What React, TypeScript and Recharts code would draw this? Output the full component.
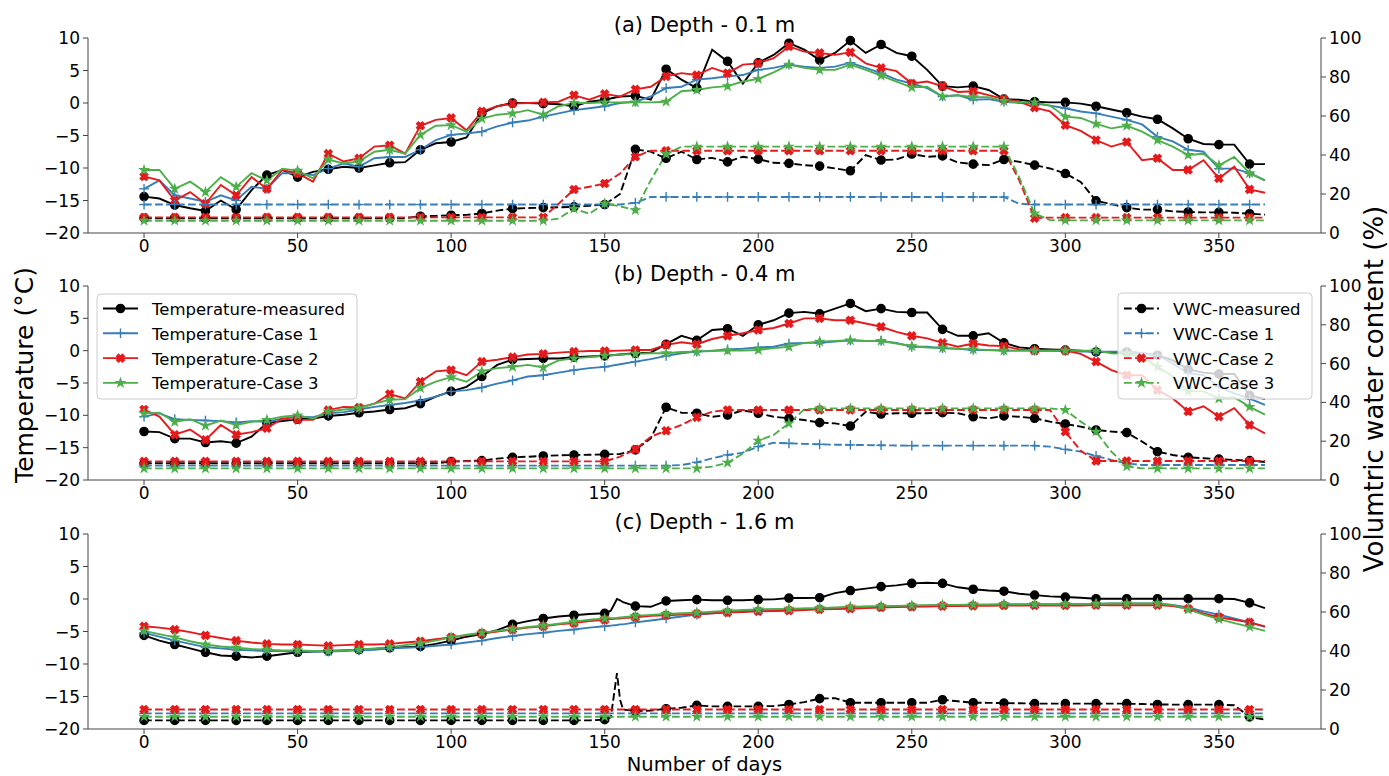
import React from "react";
import { LineChart, Line, XAxis, YAxis } from "recharts";

const FONT = "'DejaVu Sans', 'Liberation Sans', sans-serif";
const BLACK = "#000000";
const BLUE = "#377eb8";
const RED = "#e41a1c";
const GREEN = "#4daf4a";
const SPINE = "#444";

const X_TICKS = [0, 50, 100, 150, 200, 250, 300, 350];
const T_TICKS = [-20, -15, -10, -5, 0, 5, 10];
const V_TICKS = [0, 20, 40, 60, 80, 100];

const DAYS = [
  0, 5, 10, 15, 20, 25, 30, 35, 40, 45,
  50, 55, 60, 65, 70, 75, 80, 85, 90, 95,
  100, 105, 110, 115, 120, 125, 130, 135, 140, 145,
  150, 155, 160, 165, 170, 175, 180, 185, 190, 195,
  200, 205, 210, 215, 220, 225, 230, 235, 240, 245,
  250, 255, 260, 265, 270, 275, 280, 285, 290, 295,
  300, 305, 310, 315, 320, 325, 330, 335, 340, 345,
  350, 355, 360, 365,
];

// panel (c) has a few extra days around the spike at day ~154
const DAYS_C = [
  0, 5, 10, 15, 20, 25, 30, 35, 40, 45,
  50, 55, 60, 65, 70, 75, 80, 85, 90, 95,
  100, 105, 110, 115, 120, 125, 130, 135, 140, 145,
  150, 152, 154, 155, 156, 160, 165, 170, 175, 180,
  185, 190, 195, 200, 205, 210, 215, 220, 225, 230,
  235, 240, 245, 250, 255, 260, 265, 270, 275, 280,
  285, 290, 295, 300, 305, 310, 315, 320, 325, 330,
  335, 340, 345, 350, 355, 360, 365,
];

// ---- (a) depth 0.1 m ----
const TA_M = [
  -14.4, -14.7, -15.7, -16.2, -16.6, -15.0, -16.4, -13.4, -11.1, -10.3,
  -11.4, -10.6, -10.2, -9.8, -10.0, -9.6, -9.2, -9.1, -7.2, -6.2,
  -6.0, -5.3, -1.6, -0.5, 0.0, 0.0, -0.1, -0.2, -0.5, 0.2,
  0.5, 1.0, 1.1, 0.5, 5.2, 3.6, 2.3, 8.2, 6.4, 3.0,
  6.2, 7.4, 9.2, 8.2, 6.6, 7.7, 9.6, 7.7, 9.0, 7.7,
  7.2, 5.1, 2.6, 2.4, 2.6, 2.0, 0.6, 0.5, 0.2, 0.1,
  0.1, -0.1, -0.5, -1.0, -1.5, -2.1, -2.5, -3.9, -5.5, -6.3,
  -6.4, -6.4, -9.4, -9.4,
];
const TA_1 = [
  -13.2, -11.9, -14.2, -14.7, -15.2, -14.2, -15.0, -12.9, -13.2, -10.8,
  -10.8, -11.1, -10.1, -9.3, -9.8, -8.5, -8.3, -8.3, -7.2, -5.7,
  -4.9, -4.7, -4.4, -3.6, -3.0, -2.7, -2.1, -1.6, -1.1, -0.8,
  -0.5, 0.0, 0.2, 1.0, 2.3, 2.5, 3.6, 3.8, 4.1, 4.3,
  5.1, 5.4, 5.9, 5.6, 5.4, 5.6, 6.2, 5.4, 4.6, 3.6,
  3.0, 2.3, 1.0, 1.2, 0.5, 0.6, 0.2, 0.0, -0.1, -0.4,
  -0.8, -1.3, -1.6, -2.1, -2.6, -3.3, -5.2, -5.9, -7.2, -7.5,
  -10.1, -10.1, -10.8, -11.9,
];
const TA_2 = [
  -11.3, -11.9, -15.0, -13.7, -15.5, -12.6, -14.2, -11.4, -13.2, -10.3,
  -10.8, -12.1, -7.8, -9.0, -8.5, -6.7, -6.5, -7.8, -3.5, -2.6,
  -2.3, -4.2, -1.3, -0.5, -0.1, 0.0, 0.1, 0.2, 1.2, 0.5,
  1.4, 1.0, 2.1, 2.5, 4.1, 4.6, 4.3, 5.4, 4.6, 5.9,
  6.1, 6.9, 8.7, 7.9, 7.7, 7.4, 7.8, 6.1, 5.4, 4.9,
  3.0, 3.3, 2.6, 1.7, 1.8, 1.2, 0.6, 0.2, -0.7, -1.3,
  -3.4, -4.3, -5.7, -6.7, -6.0, -8.8, -8.5, -10.3, -10.3, -8.8,
  -11.6, -9.8, -13.3, -13.8,
];
const TA_3 = [
  -10.3, -10.3, -13.2, -12.1, -13.7, -11.4, -12.9, -10.8, -11.9, -10.1,
  -10.4, -11.6, -8.7, -9.3, -9.0, -7.5, -7.2, -7.8, -4.9, -3.5,
  -3.4, -4.4, -2.4, -1.8, -1.6, -1.1, -1.8, -0.5, 0.0, 0.0,
  0.1, 0.1, 0.1, 0.1, 0.2, 1.8, 2.0, 2.4, 2.6, 3.3,
  3.7, 4.7, 5.9, 5.4, 5.1, 5.1, 5.9, 5.1, 4.2, 3.3,
  2.4, 2.5, 1.0, 1.2, 0.9, 0.9, 0.3, 0.1, 0.1, -0.4,
  -2.1, -2.3, -3.2, -3.9, -3.5, -4.4, -5.7, -6.7, -8.0, -7.8,
  -9.6, -8.3, -10.8, -11.9,
];
const VA_M = [
  7.6, 7.6, 7.6, 7.6, 7.6, 7.6, 7.6, 7.6, 7.6, 7.6,
  7.6, 7.6, 7.6, 7.6, 7.6, 7.6, 7.6, 7.6, 8.6, 8.8,
  9.1, 9.3, 10.0, 11.5, 12.5, 12.8, 13.0, 13.2, 13.4, 14.0,
  14.6, 20.0, 42.9, 41.7, 38.3, 41.7, 37.7, 38.5, 36.5, 39.1,
  37.9, 36.0, 35.7, 34.8, 34.3, 33.1, 31.9, 39.9, 37.4, 37.7,
  40.5, 39.1, 39.5, 36.2, 35.3, 34.8, 37.7, 36.5, 34.8, 33.1,
  30.5, 26.2, 16.5, 14.8, 13.0, 12.0, 12.0, 11.1, 10.8, 10.6,
  10.6, 10.4, 9.9, 9.4,
];
const VA_1 = [
  14.6, 14.6, 14.6, 14.6, 14.6, 14.6, 14.6, 14.6, 14.6, 14.6,
  14.6, 14.6, 14.6, 14.6, 14.6, 14.6, 14.6, 14.6, 14.6, 14.6,
  14.6, 14.6, 14.6, 14.6, 14.6, 14.6, 14.6, 14.6, 14.6, 14.6,
  14.6, 14.6, 15.5, 18.5, 18.5, 18.5, 18.5, 18.5, 18.5, 18.5,
  18.5, 18.5, 18.5, 18.5, 18.5, 18.5, 18.5, 18.5, 18.5, 18.5,
  18.5, 18.5, 18.5, 18.5, 18.5, 18.5, 18.5, 15.0, 14.6, 14.6,
  14.6, 14.6, 14.6, 14.6, 14.6, 14.6, 14.6, 14.6, 14.6, 14.6,
  14.6, 14.6, 14.6, 14.6,
];
const VA_2 = [
  8.0, 8.0, 8.0, 8.0, 8.0, 8.0, 8.0, 8.0, 8.0, 8.0,
  8.0, 8.0, 8.0, 8.0, 8.0, 8.0, 8.0, 8.0, 8.0, 8.0,
  8.0, 8.0, 8.0, 8.0, 8.0, 8.0, 8.0, 15.0, 22.3, 23.7,
  25.4, 30.5, 39.1, 42.2, 42.2, 42.2, 42.2, 42.2, 42.2, 42.2,
  42.2, 42.2, 42.2, 42.2, 42.2, 42.2, 42.2, 42.2, 42.2, 42.2,
  42.2, 42.2, 42.2, 42.2, 42.2, 42.2, 42.2, 27.0, 7.6, 7.9,
  7.9, 7.9, 7.9, 7.9, 7.9, 7.9, 7.9, 7.9, 7.9, 7.9,
  7.9, 7.9, 7.9, 7.9,
];
const VA_3 = [
  6.3, 6.3, 6.3, 6.3, 6.3, 6.3, 6.3, 6.3, 6.3, 6.3,
  6.3, 6.3, 6.3, 6.3, 6.3, 6.3, 6.3, 6.3, 6.3, 6.3,
  6.3, 6.3, 6.3, 6.3, 6.3, 6.3, 6.3, 7.4, 12.5, 9.9,
  15.1, 13.7, 11.7, 27.0, 40.5, 44.3, 44.3, 44.3, 44.3, 44.3,
  44.3, 44.3, 44.3, 44.3, 44.3, 44.3, 44.3, 44.3, 44.3, 44.3,
  44.3, 44.3, 44.3, 44.3, 44.3, 44.3, 44.3, 28.5, 10.0, 6.6,
  6.5, 6.5, 6.5, 6.5, 6.5, 6.5, 6.5, 6.5, 6.5, 6.5,
  6.5, 6.5, 6.5, 6.5,
];

// ---- (b) depth 0.4 m ----
const TB_M = [
  -12.5, -12.6, -13.6, -13.6, -14.2, -14.0, -14.3, -13.3, -11.2, -10.9,
  -10.6, -10.5, -10.1, -9.9, -9.6, -9.4, -9.1, -8.9, -8.2, -7.1,
  -6.3, -5.6, -4.0, -2.2, -1.4, -1.3, -1.2, -1.2, -1.0, -0.9,
  -0.8, -0.6, -0.4, -0.3, 1.0, 2.3, 1.6, 3.2, 3.4, 2.3,
  4.0, 4.7, 5.8, 6.0, 5.7, 6.5, 7.3, 6.1, 6.5, 6.0,
  5.9, 5.9, 3.3, 2.3, 2.3, 2.7, 1.2, 0.5, 0.3, 0.2,
  0.1, 0.0, -0.2, -0.2, -0.2, -0.4, -0.7, -1.5, -2.9, -3.4,
  -3.6, -3.6, -6.9, -7.5,
];
const TB_1 = [
  -10.2, -9.7, -10.6, -10.7, -10.8, -10.9, -11.1, -10.9, -11.0, -10.5,
  -10.2, -10.3, -9.7, -9.5, -9.1, -8.7, -8.4, -8.1, -7.7, -7.1,
  -6.3, -6.1, -5.7, -5.1, -4.6, -4.0, -3.8, -3.4, -3.0, -2.7,
  -2.5, -2.1, -1.7, -1.3, -0.8, -0.4, -0.15, 0.0, 0.2, 0.3,
  0.5, 0.6, 1.1, 1.2, 1.2, 1.4, 1.6, 1.5, 1.5, 1.2,
  0.6, 0.6, 0.4, 0.3, 0.1, 0.1, 0.0, 0.0, 0.0, 0.0,
  -0.05, -0.15, -0.15, -0.15, -0.15, -0.4, -0.7, -2.0, -3.5, -3.8,
  -5.6, -6.6, -7.4, -8.4,
];
const TB_2 = [
  -9.1, -10.2, -13.0, -12.2, -13.8, -11.5, -13.0, -12.6, -12.0, -10.5,
  -10.7, -10.7, -9.2, -8.7, -8.8, -8.2, -6.7, -7.4, -4.8, -3.2,
  -3.0, -3.8, -1.7, -1.4, -1.0, -0.6, -0.5, -0.3, -0.15, -0.05,
  -0.05, 0.0, 0.1, 0.1, 0.9, 1.3, 1.0, 1.8, 2.3, 2.7,
  3.2, 3.5, 4.2, 5.0, 5.0, 4.7, 4.7, 4.2, 3.7, 2.9,
  2.3, 1.9, 1.2, 0.6, 1.1, 0.8, 0.7, 0.2, 0.0, 0.0,
  0.0, -0.5, -1.7, -3.0, -3.8, -3.8, -6.1, -7.4, -9.4, -8.6,
  -10.2, -8.9, -11.5, -12.8,
];
const TB_3 = [
  -9.7, -9.6, -11.0, -10.6, -11.6, -10.8, -11.5, -11.0, -10.7, -10.2,
  -10.0, -10.5, -9.4, -9.1, -8.9, -8.2, -7.6, -7.5, -5.8, -4.8,
  -4.1, -4.8, -3.2, -2.7, -2.5, -2.2, -2.6, -1.5, -1.2, -1.0,
  -0.8, -0.6, -0.5, -0.4, -0.4, -0.2, -0.15, -0.05, 0.0, 0.0,
  0.1, 0.4, 0.6, 1.2, 1.4, 1.5, 1.6, 1.5, 1.5, 1.1,
  0.7, 0.5, 0.4, 0.3, 0.2, 0.1, 0.0, 0.0, 0.0, 0.0,
  0.0, 0.0, 0.0, -0.4, -0.5, -0.9, -2.5, -4.0, -6.3, -6.3,
  -7.4, -7.2, -8.7, -9.9,
];
const VB_M = [
  8.6, 8.6, 8.6, 8.6, 8.6, 8.6, 8.6, 8.6, 8.6, 8.6,
  8.6, 8.6, 8.6, 8.6, 8.6, 8.6, 8.6, 8.6, 8.6, 8.6,
  9.5, 9.8, 10.0, 11.0, 11.7, 12.0, 12.4, 12.7, 12.9, 13.0,
  13.2, 13.4, 15.5, 21.5, 37.5, 34.7, 34.4, 32.6, 33.5, 35.9,
  34.4, 32.6, 31.8, 30.9, 29.6, 29.2, 27.8, 35.2, 34.0, 34.4,
  34.4, 34.4, 34.7, 34.4, 32.6, 31.8, 33.0, 32.6, 31.8, 30.1,
  28.9, 27.5, 25.8, 25.0, 24.4, 19.8, 14.6, 12.9, 11.7, 11.2,
  10.8, 10.3, 10.0, 9.3,
];
const VB_1 = [
  7.4, 7.4, 7.4, 7.4, 7.4, 7.4, 7.4, 7.4, 7.4, 7.4,
  7.4, 7.4, 7.4, 7.4, 7.4, 7.4, 7.4, 7.4, 7.4, 7.4,
  7.4, 7.4, 7.4, 7.4, 7.4, 7.4, 7.4, 7.4, 7.4, 7.4,
  7.4, 7.4, 7.4, 7.4, 7.4, 7.7, 9.1, 11.2, 12.9, 14.1,
  17.2, 19.2, 18.9, 18.6, 18.4, 18.2, 18.1, 18.0, 17.9, 17.8,
  17.7, 17.7, 17.7, 17.7, 17.7, 17.7, 17.7, 17.7, 17.7, 17.2,
  15.8, 14.6, 12.4, 10.3, 8.6, 7.7, 7.7, 7.7, 7.7, 7.7,
  7.7, 7.7, 7.7, 7.7,
];
const VB_2 = [
  9.6, 9.6, 9.6, 9.6, 9.6, 9.6, 9.6, 9.6, 9.6, 9.6,
  9.6, 9.6, 9.6, 9.6, 9.6, 9.6, 9.6, 9.6, 9.6, 9.6,
  9.6, 9.6, 9.6, 9.6, 9.6, 9.6, 9.6, 9.6, 9.6, 9.6,
  9.6, 12.0, 15.8, 22.3, 25.4, 28.4, 32.3, 35.2, 36.1, 36.1,
  36.1, 36.1, 36.1, 36.1, 36.1, 36.1, 36.1, 36.1, 36.1, 36.1,
  36.1, 36.1, 36.1, 36.1, 36.1, 36.1, 36.1, 36.1, 36.1, 36.1,
  24.9, 15.1, 9.8, 9.8, 9.8, 9.8, 9.8, 9.8, 9.8, 9.8,
  9.8, 9.8, 9.8, 9.8,
];
const VB_3 = [
  6.0, 6.0, 6.0, 6.0, 6.0, 6.0, 6.0, 6.0, 6.0, 6.0,
  6.0, 6.0, 6.0, 6.0, 6.0, 6.0, 6.0, 6.0, 6.0, 6.0,
  6.0, 6.0, 6.0, 6.0, 6.0, 6.0, 6.0, 6.0, 6.0, 6.0,
  6.0, 6.0, 6.0, 6.0, 6.0, 6.0, 6.0, 6.9, 8.9, 13.6,
  20.3, 23.2, 29.2, 36.4, 36.9, 36.9, 36.9, 36.9, 36.9, 36.9,
  36.9, 36.9, 36.9, 36.9, 36.9, 36.9, 36.9, 36.9, 36.9, 36.9,
  36.1, 30.1, 24.9, 14.6, 7.0, 6.0, 6.0, 6.0, 6.0, 6.0,
  6.0, 6.0, 6.0, 6.0,
];

// ---- (c) depth 1.6 m (uses DAYS_C) ----
const TC_M = [
  -5.6, -6.4, -7.0, -7.6, -8.2, -8.7, -8.8, -9.0, -8.8, -8.5,
  -8.2, -8.1, -8.0, -7.9, -7.8, -7.7, -7.5, -7.4, -7.3, -6.9,
  -6.4, -5.8, -5.4, -4.8, -3.9, -3.4, -3.0, -2.7, -2.5, -2.3,
  -2.2, -1.8, 0.0, -0.2, -0.5, -1.1, -1.2, -0.3, -0.2, -0.1,
  -0.2, -0.2, -0.2, -0.1, -0.05, 0.15, 0.15, 0.2, 0.9, 1.3,
  1.6, 1.9, 2.1, 2.4, 2.5, 2.4, 1.8, 1.5, 1.3, 1.2,
  0.8, 0.6, 0.4, 0.3, 0.2, 0.05, 0.05, 0.05, 0.05, 0.05,
  0.05, 0.05, 0.05, 0.05, 0.0, -0.6, -1.4,
];
const TC_1 = [
  -5.2, -5.8, -6.4, -6.9, -7.4, -7.6, -7.8, -7.9, -8.0, -8.0,
  -8.1, -8.1, -8.1, -8.0, -7.9, -7.8, -7.6, -7.5, -7.4, -7.2,
  -7.0, -6.7, -6.4, -6.0, -5.7, -5.4, -5.2, -4.9, -4.7, -4.4,
  -4.2, -4.1, -4.0, -3.9, -3.9, -3.6, -3.3, -3.0, -2.7, -2.4,
  -2.2, -2.0, -1.8, -1.7, -1.6, -1.6, -1.5, -1.5, -1.4, -1.3,
  -1.2, -1.2, -1.1, -1.1, -1.0, -1.0, -0.95, -0.9, -0.9, -0.85,
  -0.85, -0.8, -0.8, -0.8, -0.75, -0.75, -0.7, -0.7, -0.7, -0.7,
  -0.9, -1.3, -1.9, -2.4, -3.0, -3.6, -4.3,
];
const TC_2 = [
  -4.2, -4.4, -4.7, -5.1, -5.6, -6.0, -6.4, -6.7, -6.9, -7.0,
  -7.0, -7.1, -7.2, -7.1, -7.0, -7.0, -6.9, -6.7, -6.5, -6.2,
  -5.9, -5.6, -5.3, -5.0, -4.7, -4.4, -4.2, -3.9, -3.7, -3.4,
  -3.2, -3.1, -3.0, -3.0, -2.95, -2.8, -2.6, -2.5, -2.4, -2.3,
  -2.2, -2.1, -2.0, -1.9, -1.85, -1.8, -1.7, -1.6, -1.55, -1.5,
  -1.4, -1.3, -1.25, -1.2, -1.15, -1.1, -1.1, -1.05, -1.05, -1.0,
  -1.0, -1.0, -1.0, -1.0, -1.0, -0.95, -0.95, -0.95, -0.95, -0.95,
  -1.1, -1.5, -2.2, -2.8, -3.2, -3.6, -4.2,
];
const TC_3 = [
  -4.9, -5.4, -5.9, -6.5, -7.0, -7.3, -7.5, -7.7, -7.8, -7.9,
  -7.9, -8.0, -8.0, -7.9, -7.8, -7.6, -7.4, -7.1, -6.8, -6.4,
  -5.9, -5.5, -5.2, -4.9, -4.6, -4.3, -4.1, -3.8, -3.5, -3.2,
  -3.0, -2.95, -2.9, -2.85, -2.8, -2.6, -2.45, -2.3, -2.2, -2.1,
  -1.95, -1.8, -1.7, -1.6, -1.55, -1.5, -1.45, -1.4, -1.3, -1.2,
  -1.15, -1.1, -1.05, -1.0, -0.95, -0.9, -0.9, -0.85, -0.85, -0.8,
  -0.8, -0.8, -0.8, -0.8, -0.75, -0.75, -0.7, -0.7, -0.7, -0.7,
  -0.95, -1.6, -2.4, -3.1, -3.7, -4.3, -4.9,
];
const VC_M = [
  4.4, 4.4, 4.4, 4.4, 4.4, 4.4, 4.4, 4.4, 4.4, 4.4,
  4.4, 4.4, 4.4, 4.4, 4.4, 4.4, 4.4, 4.4, 4.4, 4.4,
  4.4, 4.4, 4.4, 4.4, 4.4, 4.4, 4.4, 4.4, 4.4, 4.4,
  4.8, 6.0, 28.7, 15.0, 10.0, 9.2, 9.4, 10.4, 10.9, 12.1,
  11.6, 11.6, 11.6, 11.6, 11.8, 12.6, 13.8, 15.6, 15.8, 13.5,
  13.5, 13.5, 13.5, 13.5, 13.5, 15.0, 14.2, 13.5, 13.4, 13.3,
  13.2, 13.0, 13.0, 13.0, 13.0, 13.0, 13.0, 13.0, 12.8, 12.6,
  12.5, 12.5, 12.5, 12.5, 12.2, 6.2, 4.8,
];
const VC_1 = [
  8.0, 8.0, 8.0, 8.0, 8.0, 8.0, 8.0, 8.0, 8.0, 8.0,
  8.0, 8.0, 8.0, 8.0, 8.0, 8.0, 8.0, 8.0, 8.0, 8.0,
  8.0, 8.0, 8.0, 8.0, 8.0, 8.0, 8.0, 8.0, 8.0, 8.0,
  8.0, 8.0, 8.0, 8.0, 8.0, 8.0, 8.0, 8.0, 8.0, 8.0,
  8.0, 8.0, 8.0, 8.0, 8.0, 8.0, 8.0, 8.0, 8.0, 8.0,
  8.0, 8.0, 8.0, 8.0, 8.0, 8.0, 8.0, 8.0, 8.0, 8.0,
  8.0, 8.0, 8.0, 8.0, 8.0, 8.0, 8.0, 8.0, 8.0, 8.0,
  8.0, 8.0, 8.0, 8.0, 8.0, 8.0, 8.0,
];
const VC_2 = [
  10.0, 10.0, 10.0, 10.0, 10.0, 10.0, 10.0, 10.0, 10.0, 10.0,
  10.0, 10.0, 10.0, 10.0, 10.0, 10.0, 10.0, 10.0, 10.0, 10.0,
  10.0, 10.0, 10.0, 10.0, 10.0, 10.0, 10.0, 10.0, 10.0, 10.0,
  10.0, 10.0, 10.0, 10.0, 10.0, 10.0, 10.0, 10.0, 10.0, 10.0,
  10.0, 10.0, 10.0, 10.0, 10.0, 10.0, 10.0, 10.0, 10.0, 10.0,
  10.0, 10.0, 10.0, 10.0, 10.0, 10.0, 10.0, 10.0, 10.0, 10.0,
  10.0, 10.0, 10.0, 10.0, 10.0, 10.0, 10.0, 10.0, 10.0, 10.0,
  10.0, 10.0, 10.0, 10.0, 10.0, 10.0, 10.0,
];
const VC_3 = [
  6.3, 6.3, 6.3, 6.3, 6.3, 6.3, 6.3, 6.3, 6.3, 6.3,
  6.3, 6.3, 6.3, 6.3, 6.3, 6.3, 6.3, 6.3, 6.3, 6.3,
  6.3, 6.3, 6.3, 6.3, 6.3, 6.3, 6.3, 6.3, 6.3, 6.3,
  6.3, 6.3, 6.3, 6.3, 6.3, 6.3, 6.3, 6.3, 6.3, 6.3,
  6.3, 6.3, 6.3, 6.3, 6.3, 6.3, 6.3, 6.3, 6.3, 6.3,
  6.3, 6.3, 6.3, 6.3, 6.3, 6.3, 6.3, 6.3, 6.3, 6.3,
  6.3, 6.3, 6.3, 6.3, 6.3, 6.3, 6.3, 6.3, 6.3, 6.3,
  6.3, 6.3, 6.3, 6.3, 6.3, 6.3, 6.3,
];

type Kind = "circle" | "plus" | "x" | "star";

const SERIES: { key: string; axis: string; color: string; kind: Kind; dashed: boolean; name: string }[] = [
  { key: "tm", axis: "t", color: BLACK, kind: "circle", dashed: false, name: "Temperature-measured" },
  { key: "t1", axis: "t", color: BLUE, kind: "plus", dashed: false, name: "Temperature-Case 1" },
  { key: "t2", axis: "t", color: RED, kind: "x", dashed: false, name: "Temperature-Case 2" },
  { key: "t3", axis: "t", color: GREEN, kind: "star", dashed: false, name: "Temperature-Case 3" },
  { key: "vm", axis: "v", color: BLACK, kind: "circle", dashed: true, name: "VWC-measured" },
  { key: "v1", axis: "v", color: BLUE, kind: "plus", dashed: true, name: "VWC-Case 1" },
  { key: "v2", axis: "v", color: RED, kind: "x", dashed: true, name: "VWC-Case 2" },
  { key: "v3", axis: "v", color: GREEN, kind: "star", dashed: true, name: "VWC-Case 3" },
];

function buildRows(days: number[], s: number[][]) {
  return days.map((day, i) => ({
    day,
    tm: s[0][i], t1: s[1][i], t2: s[2][i], t3: s[3][i],
    vm: s[4][i], v1: s[5][i], v2: s[6][i], v3: s[7][i],
  }));
}

const ROWS_A = buildRows(DAYS, [TA_M, TA_1, TA_2, TA_3, VA_M, VA_1, VA_2, VA_3]);
const ROWS_B = buildRows(DAYS, [TB_M, TB_1, TB_2, TB_3, VB_M, VB_1, VB_2, VB_3]);
const ROWS_C = buildRows(DAYS_C, [TC_M, TC_1, TC_2, TC_3, VC_M, VC_1, VC_2, VC_3]);

const MS = 8.3; // marker size in px

function markerShape(kind: Kind, color: string, cx: number, cy: number) {
  const h = MS / 2;
  if (kind === "circle") {
    return <circle cx={cx} cy={cy} r={h} fill={color} stroke={color} strokeWidth={1.3} />;
  }
  if (kind === "plus") {
    return (
      <g stroke={color} strokeWidth={1.4}>
        <line x1={cx - h - 0.7} y1={cy} x2={cx + h + 0.7} y2={cy} />
        <line x1={cx} y1={cy - h - 0.7} x2={cx} y2={cy + h + 0.7} />
      </g>
    );
  }
  if (kind === "x") {
    const a = MS / 6;
    const b = MS / 2;
    const base = [[-a, -b], [a, -b], [a, -a], [b, -a], [b, a], [a, a], [a, b], [-a, b], [-a, a], [-b, a], [-b, -a], [-a, -a]];
    const pts = base
      .map(([x, y]) => `${cx + (x - y) / Math.SQRT2},${cy + (x + y) / Math.SQRT2}`)
      .join(" ");
    return <polygon points={pts} fill={color} stroke={color} strokeWidth={1.3} strokeLinejoin="miter" />;
  }
  const pts: string[] = [];
  for (let i = 0; i < 10; i++) {
    const rad = i % 2 === 0 ? h * 1.05 : h * 0.4;
    const ang = -Math.PI / 2 + (i * Math.PI) / 5;
    pts.push(`${cx + rad * Math.cos(ang)},${cy + rad * Math.sin(ang)}`);
  }
  return <polygon points={pts.join(" ")} fill={color} stroke={color} strokeWidth={1.2} strokeLinejoin="miter" />;
}

const makeDot = (kind: Kind, color: string, id: string) => (props: any) => {
  const { cx, cy, payload, index } = props;
  const k = `${id}-${index}`;
  if (cx == null || cy == null || payload == null || payload.day % 10 !== 0) return <g key={k} />;
  return (
    <g key={k} strokeDasharray="none">
      {markerShape(kind, color, cx, cy)}
    </g>
  );
};

const minus = (v: number) => String(v).replace("-", "\u2212");
const TICK = { fill: "#000", fontSize: 17, fontFamily: FONT };
const X_DOMAIN: [number, number] = [-18.25, 383.25];

function Panel({ rows, top, height, id }: { rows: any[]; top: number; height: number; id: string }) {
  return (
    <div style={{ position: "absolute", left: 0, top }}>
      <LineChart width={1389} height={height} data={rows} margin={{ top: 38, right: 0, bottom: 0, left: 0 }}>
        <XAxis
          dataKey="day"
          type="number"
          domain={X_DOMAIN}
          ticks={X_TICKS}
          interval={0}
          height={23}
          tickSize={5}
          tickMargin={2}
          tick={TICK}
          stroke={SPINE}
        />
        <XAxis
          xAxisId="top"
          orientation="top"
          dataKey="day"
          type="number"
          domain={X_DOMAIN}
          height={0}
          tick={false}
          tickLine={false}
          stroke={SPINE}
        />
        <YAxis
          yAxisId="t"
          orientation="left"
          type="number"
          domain={[-20, 10]}
          ticks={T_TICKS}
          interval={0}
          width={88}
          tickSize={5}
          tickMargin={3}
          tick={TICK}
          tickFormatter={minus}
          stroke={SPINE}
        />
        <YAxis
          yAxisId="v"
          orientation="right"
          type="number"
          domain={[0, 100]}
          ticks={V_TICKS}
          interval={0}
          width={68}
          tickSize={5}
          tickMargin={3}
          tick={TICK}
          stroke={SPINE}
        />
        {SERIES.map((s) => (
          <Line
            key={s.key}
            yAxisId={s.axis}
            dataKey={s.key}
            type="linear"
            stroke={s.color}
            strokeWidth={1.9}
            strokeDasharray={s.dashed ? "7.7 3.3" : undefined}
            dot={makeDot(s.kind, s.color, `${id}-${s.key}`)}
            activeDot={false}
            isAnimationActive={false}
          />
        ))}
      </LineChart>
    </div>
  );
}

function LegendBox({ x, y, w, h, items, lineX, textX }: { x: number; y: number; w: number; h: number; items: typeof SERIES; lineX: number; textX: number }) {
  return (
    <g>
      <rect x={x} y={y} width={w} height={h} rx={4} fill="#fff" fillOpacity={0.8} stroke="#cccccc" strokeWidth={1} />
      {items.map((s, i) => {
        const base = 315 + i * 24.8;
        const ly = base - 6.5;
        return (
          <g key={s.key}>
            <line
              x1={lineX}
              y1={ly}
              x2={lineX + 35}
              y2={ly}
              stroke={s.color}
              strokeWidth={1.9}
              strokeDasharray={s.dashed ? "7.7 3.3" : undefined}
            />
            {markerShape(s.kind, s.color, lineX + 17.5, ly)}
            <text x={textX} y={base} fontSize={16.5} fontFamily={FONT} fill="#000">
              {s.name}
            </text>
          </g>
        );
      })}
    </g>
  );
}

export default function App() {
  return (
    <div style={{ position: "absolute", left: 0, top: 0, width: 1389, height: 776, background: "#fff", fontFamily: FONT }}>
      <Panel rows={ROWS_A} top={0} height={256} id="a" />
      <Panel rows={ROWS_B} top={248} height={255} id="b" />
      <Panel rows={ROWS_C} top={496} height={256} id="c" />
      <svg width={1389} height={776} style={{ position: "absolute", left: 0, top: 0, pointerEvents: "none" }}>
        <g fontFamily={FONT} fill="#000" textAnchor="middle">
          <text x={704.5} y={32} fontSize={21}>(a) Depth - 0.1 m</text>
          <text x={704.5} y={281} fontSize={21}>(b) Depth - 0.4 m</text>
          <text x={704.5} y={528.5} fontSize={21}>(c) Depth - 1.6 m</text>
          <text x={704.5} y={771} fontSize={19.5}>Number of days</text>
          <text transform="translate(33,375) rotate(-90)" fontSize={25}>Temperature (°C)</text>
          <text transform="translate(1383,389) rotate(-90)" fontSize={26}>Volumtric water content (%)</text>
        </g>
        <LegendBox x={97} y={294} w={260} h={105} items={SERIES.slice(0, 4)} lineX={103} textX={152} />
        <LegendBox x={1118} y={293} w={194} h={106} items={SERIES.slice(4)} lineX={1124} textX={1173} />
      </svg>
    </div>
  );
}
